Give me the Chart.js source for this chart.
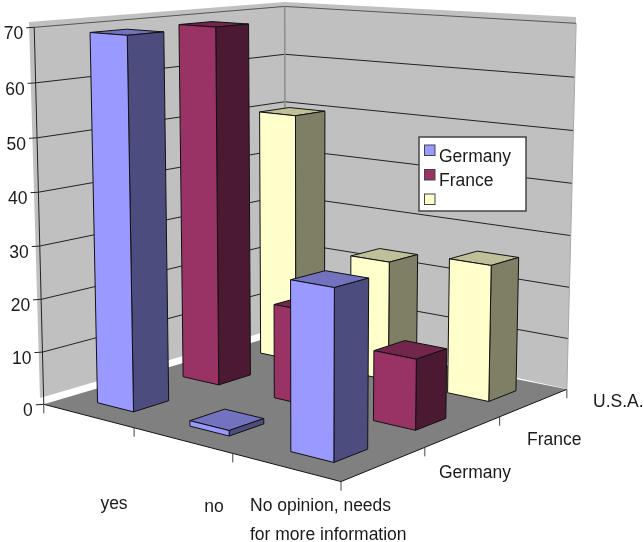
<!DOCTYPE html>
<html>
<head>
<meta charset="utf-8">
<style>html,body{margin:0;padding:0;background:#fff}canvas{display:block}</style>
<script src="https://cdn.jsdelivr.net/npm/chart.js@4/dist/chart.umd.min.js"></script>
</head>
<body>
<canvas id="c" width="644" height="542"></canvas>
<script>
const categories = ["yes", "no", "No opinion, needs\nfor more information"];
const depthLabels = ["Germany", "France", "U.S.A."];
const legendLabels = ["Germany", "France", ""];
const germany = [69, 1, 30];
const france = [69, 18, 13];
const usa = [50, 23.5, 26];
const yTicks = {min: 0, max: 70, step: 10};

const FONT = '17.5px "Liberation Sans", Arial, sans-serif';
const TEXT = '#1a1a1a';
const DEPTH_FRACTION = 0.40;

/* camera: calibration of the unit box (u along categories, v into depth, w up) */
const calibration = [
  [0,0,0, 44,406],[1,0,0, 341,480],[1,1,0, 567,391],[0,1,0, 285,331],
  [0,0,1, 34,27],[0,1,1, 285,7],[1,1,1, 576,23]
];
function solve(A,b){const n=b.length;const M=A.map((r,i)=>[...r,b[i]]);
  for(let i=0;i<n;i++){let p=i;for(let k=i+1;k<n;k++)if(Math.abs(M[k][i])>Math.abs(M[p][i]))p=k;
    [M[i],M[p]]=[M[p],M[i]];
    for(let k=0;k<n;k++){if(k===i)continue;const f=M[k][i]/M[i][i];for(let j=i;j<=n;j++)M[k][j]-=f*M[i][j];}}
  return M.map((r,i)=>r[n]/r[i]);}
function fitCamera(){const R=[],B=[];
  calibration.forEach(([u,v,w,x,y])=>{
    R.push([u,v,w,1,0,0,0,0,-x*u,-x*v,-x*w]);B.push(x);
    R.push([0,0,0,0,u,v,w,1,-y*u,-y*v,-y*w]);B.push(y);});
  const n=11,A=[],b=[];
  for(let i=0;i<n;i++){A.push([]);let s=0;
    for(let j=0;j<n;j++){let t=0;R.forEach(r=>t+=r[i]*r[j]);A[i].push(t);}
    R.forEach((r,k)=>s+=r[i]*B[k]);b.push(s);}
  return solve(A,b);}
const cam=fitCamera();
function P(u,v,w){const d=cam[8]*u+cam[9]*v+cam[10]*w+1;
  return [(cam[0]*u+cam[1]*v+cam[2]*w+cam[3])/d,(cam[4]*u+cam[5]*v+cam[6]*w+cam[7])/d];}

function poly(ctx,pts,fill,stroke,lw){ctx.beginPath();pts.forEach((p,i)=>i?ctx.lineTo(p[0],p[1]):ctx.moveTo(p[0],p[1]));ctx.closePath();
  if(fill){ctx.fillStyle=fill;ctx.fill();}
  if(stroke){ctx.strokeStyle=stroke;ctx.lineWidth=lw||1;ctx.stroke();}}
function line(ctx,a,b,c,lw){ctx.beginPath();ctx.moveTo(a[0],a[1]);ctx.lineTo(b[0],b[1]);ctx.strokeStyle=c;ctx.lineWidth=lw||1;ctx.stroke();}
function shade(hex,f){const n=parseInt(hex.slice(1),16);
  return `rgb(${(n>>16&255)*f|0},${(n>>8&255)*f|0},${(n&255)*f|0})`;}

const scene3d={id:'scene3d',beforeDatasetsDraw(chart){
  const ctx=chart.ctx,x=chart.scales.x,y=chart.scales.y;
  const W=v=>(y.bottom-y.getPixelForValue(v))/(y.bottom-y.top);
  ctx.save();ctx.lineJoin='miter';
  /* walls */
  poly(ctx,[[29,22],[285,2],[285,326],[40,398]],'#C0C0C0');
  poly(ctx,[[285,2],[576,17],[576,23],[567,389],[285,326]],'#C0C0C0');
  /* floor */
  poly(ctx,[P(0,0,0),P(1,0,0),P(1,1,0),P(0,1,0)],'#808080');
  line(ctx,P(0,0,0),P(1,0,0),'#111');line(ctx,P(1,0,0),P(1,1,0),'#111');
  /* gridlines from the value scale */
  y.ticks.forEach(t=>{const w=W(t.value);if(w<=0)return;const c=t.value===yTicks.max?'#555':'#222';
    line(ctx,P(0,0,w),P(0,1,w),c);line(ctx,P(0,1,w),P(1,1,w),c);});
  line(ctx,P(0,1,0),P(0,1,1),'#8c8c8c',1.5);
  line(ctx,P(1,1,0),P(1,1,1),'#a8a8a8',1);
  line(ctx,P(0,0,0),P(0,0,1),'#222',1);
  /* ticks */
  ctx.font=FONT;ctx.fillStyle=TEXT;ctx.textAlign='right';ctx.textBaseline='middle';
  y.ticks.forEach(t=>{const p=P(0,0,W(t.value));line(ctx,[p[0]-8,p[1]+0.5],p,'#222');
    ctx.fillStyle=TEXT;ctx.fillText(t.label,p[0]-11,p[1]+7);});
  for(let i=0;i<=categories.length;i++){const p=P(i/categories.length,0,0);line(ctx,p,[p[0],p[1]+9],'#444');}
  for(let j=1;j<=depthLabels.length;j++){const p=P(1,j/depthLabels.length,0);line(ctx,p,[p[0],p[1]+9],'#444');}
  /* bars, back row first */
  for(let d=chart.data.datasets.length-1;d>=0;d--){
    const ds=chart.data.datasets[d],meta=chart.getDatasetMeta(d);
    const nR=chart.data.datasets.length;
    const v0=(d+0.5-DEPTH_FRACTION/2)/nR,v1=(d+0.5+DEPTH_FRACTION/2)/nR;
    meta.data.forEach(b=>{
      const u0=(b.x-b.width/2-x.left)/x.width,u1=(b.x+b.width/2-x.left)/x.width;
      const h=(y.bottom-b.y)/(y.bottom-y.top);
      const col=ds.backgroundColor;
      poly(ctx,[P(u0,v0,h),P(u1,v0,h),P(u1,v1,h),P(u0,v1,h)],shade(col,0.75),'#111');
      poly(ctx,[P(u1,v0,0),P(u1,v1,0),P(u1,v1,h),P(u1,v0,h)],shade(col,0.5),'#111');
      poly(ctx,[P(u0,v0,0),P(u1,v0,0),P(u1,v0,h),P(u0,v0,h)],col,'#111');
    });
  }
  /* category and depth labels */
  ctx.fillStyle=TEXT;ctx.font=FONT;ctx.textBaseline='middle';
  ctx.textAlign='center';
  ctx.fillText(x.getLabelForValue(0),114,504);
  ctx.fillText(x.getLabelForValue(1),214,507);
  ctx.textAlign='left';
  categories[2].split('\n').forEach((s,i)=>ctx.fillText(s,250,506+i*29));
  ctx.fillText(depthLabels[0],439,473);
  ctx.fillText(depthLabels[1],527,440);
  ctx.fillText(depthLabels[2],593,402);
  /* legend */
  ctx.fillStyle='#fff';ctx.fillRect(419,137,107,74);
  ctx.strokeStyle='#444';ctx.lineWidth=1.5;ctx.strokeRect(419,137,107,74);
  chart.data.datasets.forEach((ds,i)=>{
    const ty=145+i*24.5;
    ctx.fillStyle=ds.backgroundColor;ctx.fillRect(424.5,ty,10.5,10.5);
    ctx.strokeStyle='#444';ctx.lineWidth=1;ctx.strokeRect(424.5,ty,10.5,10.5);
    ctx.fillStyle=TEXT;ctx.fillText(legendLabels[i],439,ty+12);
  });
  ctx.restore();
  return false;
}};

new Chart(document.getElementById('c'),{
  type:'bar',
  data:{labels:categories,datasets:[
    {label:depthLabels[0],data:germany,backgroundColor:'#9999FF'},
    {label:depthLabels[1],data:france,backgroundColor:'#993366'},
    {label:depthLabels[2],data:usa,backgroundColor:'#FFFFCC'}
  ]},
  options:{
    responsive:false,animation:false,
    layout:{padding:0},
    datasets:{bar:{grouped:false,barPercentage:1,categoryPercentage:0.4}},
    plugins:{legend:{display:false},tooltip:{enabled:false}},
    scales:{
      x:{display:false,offset:true},
      y:{display:false,min:yTicks.min,max:yTicks.max,ticks:{stepSize:yTicks.step}}
    }
  },
  plugins:[scene3d]
});
</script>
</body>
</html>
